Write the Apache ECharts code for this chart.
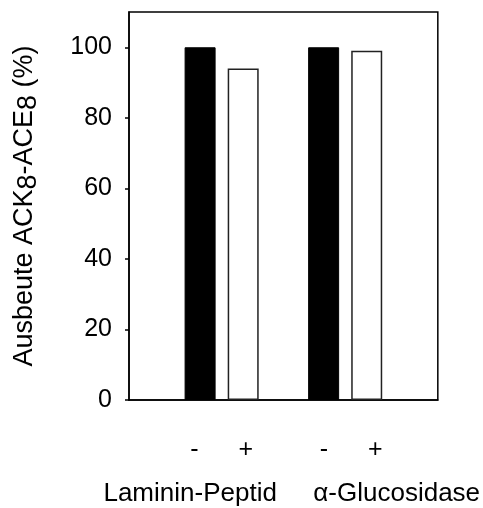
<!DOCTYPE html>
<html lang="de">
<head>
<meta charset="UTF-8">
<title>Ausbeute ACK8-ACE8</title>
<script src="https://cdn.jsdelivr.net/npm/echarts@6/dist/echarts.min.js"></script>
<style>
html, body { margin: 0; padding: 0; background: #fff; }
#chart { width: 483px; height: 508px; }
</style>
</head>
<body>
<div id="chart"></div>
<script>
// data
const groups = ['Laminin-Peptid', '\u03b1-Glucosidase'];
const minusValues = [100, 100];
const plusValues = [94, 99];
const signs = ['-', '+'];
const yTicks = [0, 20, 40, 60, 80, 100];

// spacer slots around and between the two groups
const slots = ['', groups[0], '', groups[1], ''];
const pad = (vals) => [null, vals[0], null, vals[1], null];
const isGroup = (i) => i === 1 || i === 3;

const font = 'Liberation Sans, Arial, sans-serif';
const chart = echarts.init(document.getElementById('chart'));
chart.setOption({
  animation: false,
  grid: {
    left: 129, right: 44, top: 12, bottom: 108,
    show: true, borderColor: '#000', borderWidth: 1.5, backgroundColor: 'transparent'
  },
  xAxis: {
    type: 'category',
    data: slots,
    axisLine: { lineStyle: { color: '#000', width: 1.5 } },
    axisTick: {
      alignWithLabel: true,
      length: 4,
      interval: (i) => isGroup(i),
      lineStyle: { color: '#000', width: 1.5 }
    },
    axisLabel: {
      interval: 0,
      margin: 28,
      fontFamily: font,
      color: '#000',
      formatter: (v, i) => {
        if (i === 1) return '{m|' + signs[0] + '}{p|' + signs[1] + '}\n{n1|' + v + '}';
        if (i === 3) return '{m2|' + signs[0] + '}{p|' + signs[1] + '}\n{n2|' + v + '}';
        return '';
      },
      rich: {
        m: { fontSize: 25, lineHeight: 44, fontFamily: font },
        m2: { fontSize: 25, lineHeight: 44, fontFamily: font, padding: [0, 0, 0, 12] },
        p: { fontSize: 25, lineHeight: 44, fontFamily: font, padding: [0, 0, 0, 40] },
        n1: { fontSize: 26, lineHeight: 44, fontFamily: font, padding: [0, 63, 0, 0] },
        n2: { fontSize: 26, lineHeight: 44, fontFamily: font, padding: [0, 0, 0, 103] }
      }
    },
    splitLine: { show: false }
  },
  yAxis: {
    type: 'value',
    min: 0,
    max: 110,
    name: 'Ausbeute ACK{s|8}-ACE{s|8} (%)',
    nameLocation: 'middle',
    nameGap: 87,
    nameTextStyle: {
      fontSize: 27, fontFamily: font, color: '#000',
      rich: { s: { fontSize: 27, fontFamily: font, color: '#000', padding: [8, 0, 0, 0] } }
    },
    axisLine: { show: true, lineStyle: { color: '#000', width: 1.5 } },
    axisTick: { show: true, length: 4, customValues: yTicks, lineStyle: { color: '#000', width: 1.5 } },
    axisLabel: { fontSize: 25, fontFamily: font, color: '#000', margin: 17, customValues: yTicks },
    splitLine: { show: false }
  },
  series: [{
    name: signs[0],
    type: 'bar',
    data: pad(minusValues),
    barWidth: 31,
    barGap: '39%',
    itemStyle: { color: '#000', borderColor: '#000', borderWidth: 1 }
  }, {
    name: signs[1],
    type: 'bar',
    data: pad(plusValues),
    barWidth: 31,
    itemStyle: { color: '#fff', borderColor: '#222', borderWidth: 1.5 }
  }]
});
</script>
</body>
</html>
